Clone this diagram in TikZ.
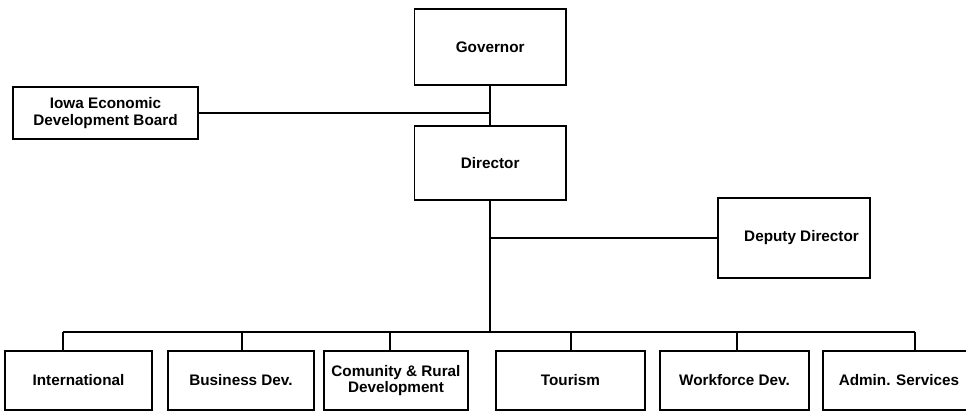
\documentclass[tikz,border=0pt]{standalone}
\usepackage{fontspec}
\setmainfont{Liberation Sans}
\usetikzlibrary{calc}

\newcommand{\Division}[5]{
\node[unit, minimum width=#4 cm](#1) at (#2,0.807) {#5};
\coordinate (#1Top) at (#3,2.09); % point on the bus
\draw[link] (#1Top)--(#1Top |- #1.north);
}

\begin{document}
\begin{tikzpicture}[scale=1,
box/.style={draw, line width=1.2pt, inner sep=2pt, align=center, font=\fontsize{11.5}{12.5}\selectfont\bfseries},
unit/.style={box, minimum height=1.56cm},
link/.style={line width=1.2pt},
]
\useasboundingbox (0,0) rectangle (25.56,10.874); %%%%%%% SIZE OF THE PAGE

%%%%%%%%%%%%%%%%%%%%%%%% TOP OF THE CHART %%%%%%%%%%%%%%%%%%%%%%%%%%%
\node[box, minimum width=4cm, minimum height=2.01cm](Gov) at (12.97,9.631) {Governor};
\node[box, minimum width=4cm, minimum height=1.96cm](Dir) at (12.97,6.562) {Director};
\node[box, minimum width=4.9cm, minimum height=1.376cm](Board) at (2.791,7.884) {Iowa Economic\\Development Board};
\node[box, minimum width=4.02cm, minimum height=2.117cm](Deputy) at (21.008,4.577) {\hspace{4mm}Deputy Director};

\draw[link] (Gov)--(Dir);
\draw[link] (Board.east)--(Board.east -| Gov.south);
\draw[link] (Deputy.west)--(Deputy.west -| Dir.south);

%%%%%%%%%%%%%%%%%%%%%%%% BUS %%%%%%%%%%%%%%%%%%%%%%%%%%%
\coordinate (Bus) at (12.97,2.09);
\coordinate (BusL) at (1.667,2.09);
\coordinate (BusR) at (24.209,2.09);
\draw[link] (Dir)--(Bus);
\draw[link] (BusL)--(BusR);

%%%%%%%%%%%%%%%%%%%%%%%% DIVISIONS %%%%%%%%%%%%%%%%%%%%%%%%%%%
\Division{Intl}{2.077}{1.667}{3.89}{International}
\Division{BusDev}{6.376}{6.403}{3.86}{Business Dev.}
\Division{Rural}{10.477}{10.319}{3.81}{Comunity \& Rural\\Development}
\Division{Tour}{15.094}{15.108}{3.94}{Tourism}
\Division{Work}{19.433}{19.500}{3.94}{Workforce Dev.}
\Division{Admin}{23.785}{24.209}{4.02}{Admin. Services}
\end{tikzpicture}
\end{document}
